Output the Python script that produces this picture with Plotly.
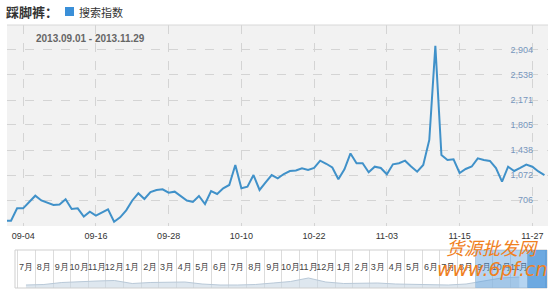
import plotly.graph_objects as go
import pandas as pd

# ---------------- data ----------------
start_date = "2013-09-01"
search_index = [403, 403, 584, 584, 677, 769, 699, 662, 633, 640,
                716, 574, 584, 464, 534, 476, 526, 570, 388, 452,
                555, 699, 804, 721, 823, 853, 863, 813, 828, 757,
                699, 677, 765, 647, 838, 794, 878, 926, 1219, 878,
                901, 1072, 853, 963, 1072, 1024, 1087, 1131, 1138, 1171,
                1146, 1175, 1282, 1237, 1182, 1009, 1156, 1388, 1244, 1244,
                1112, 1194, 1175, 1083, 1229, 1244, 1282, 1197, 1121, 1219,
                1586, 2965, 1366, 1292, 1303, 1102, 1160, 1197, 1317, 1292,
                1278, 1175, 974, 1194, 1131, 1175, 1226, 1194, 1124, 1072]
dates = pd.date_range(start_date, periods=len(search_index), freq="D")

x_tick_vals = ["2013-09-04", "2013-09-16", "2013-09-28", "2013-10-10",
               "2013-10-22", "2013-11-03", "2013-11-15", "2013-11-27"]
x_tick_text = ["09-04", "09-16", "09-28", "10-10", "10-22", "11-03", "11-15", "11-27"]
y_tick_vals = [706, 1072, 1438, 1805, 2171, 2538, 2904]
y_tick_text = ["706", "1,072", "1,438", "1,805", "2,171", "2,538", "2,904"]

# navigator (overview) data: monthly, 2011-07 .. 2013-11
nav_months = ["2011-07-16", "2011-08-16", "2011-09-16", "2011-10-16", "2011-11-16", "2011-12-16",
              "2012-01-16", "2012-02-16", "2012-03-16", "2012-04-16", "2012-05-16", "2012-06-16",
              "2012-07-16", "2012-08-16", "2012-09-16", "2012-10-16", "2012-11-16", "2012-12-16",
              "2013-01-16", "2013-02-16", "2013-03-16", "2013-04-16", "2013-05-16", "2013-06-16",
              "2013-07-16", "2013-08-16", "2013-09-16", "2013-10-16", "2013-11-16"]
nav_labels = ["7月", "8月", "9月", "10月", "11月", "12月",
              "1月", "2月", "3月", "4月", "5月", "6月",
              "7月", "8月", "9月", "10月", "11月", "12月",
              "1月", "2月", "3月", "4月", "5月", "6月",
              "7月", "8月", "9月", "10月", "11月"]
nav_values = [300, 350, 550, 650, 700, 750, 450, 550, 600, 600, 400, 300,
              300, 350, 500, 650, 1000, 600, 450, 450, 500, 400, 350, 300,
              300, 400, 700, 1000, 1100]

keyword = "踩脚裤："
legend_name = "搜索指数"
date_range_text = "2013.09.01 - 2013.11.29"

W, H = 550, 290
def px(x): return x / W
def py(y): return 1 - y / H

fig = go.Figure()

fig.add_trace(go.Scatter(
    x=dates, y=search_index, mode="lines",
    line=dict(color="#4091c9", width=2),
    xaxis="x", yaxis="y", showlegend=False, hoverinfo="skip"))

fig.add_trace(go.Scatter(
    x=nav_months, y=nav_values, mode="lines", fill="tozeroy",
    line=dict(color="#b9c9d8", width=1), fillcolor="rgba(200,215,228,0.6)",
    xaxis="x2", yaxis="y2", showlegend=False, hoverinfo="skip"))

fig.add_trace(go.Scatter(
    x=nav_months, y=[2000] * len(nav_months), mode="text", text=nav_labels,
    textfont=dict(family="Liberation Sans, Arial", size=9, color="#444"),
    xaxis="x2", yaxis="y2", showlegend=False, hoverinfo="skip"))

fig.update_layout(
    width=W, height=H, margin=dict(l=0, r=0, t=0, b=0),
    paper_bgcolor="white", plot_bgcolor="white",
    xaxis=dict(domain=[px(7), px(548)], type="date",
               range=["2013-09-01 08:00", "2013-11-29 14:00"],
               tickvals=x_tick_vals, ticktext=x_tick_text,
               showgrid=True, gridcolor="#d4d4d4", griddash="dash", gridwidth=1,
               ticks="", showline=False, zeroline=False, ticklabelstandoff=3,
               tickfont=dict(family="Liberation Sans, Arial", size=9, color="#333")),
    yaxis=dict(domain=[py(226), py(25)], range=[325, 3270],
               tickvals=y_tick_vals, ticktext=y_tick_text,
               anchor="free", position=px(533), side="left",
               showgrid=True, gridcolor="#d4d4d4", griddash="dash", gridwidth=1,
               ticks="", showline=False, zeroline=False,
               tickfont=dict(family="Liberation Sans, Arial", size=9, color="#7696bd")),
    xaxis2=dict(domain=[px(15), px(547)], type="date", anchor="y2",
                range=["2011-06-27", "2014-01-03"],
                tick0="2011-07-01", dtick="M1", showticklabels=False, ticks="",
                showgrid=True, gridcolor="#dcdcdc", gridwidth=1,
                showline=False, zeroline=False),
    yaxis2=dict(domain=[py(288), py(250)], range=[0, 3800], anchor="x2",
                showgrid=False, showticklabels=False, zeroline=False, showline=False),
    shapes=[
        dict(type="rect", xref="x domain", yref="y domain", x0=0, x1=1, y0=0, y1=1,
             fillcolor="#f2f2f2", line=dict(width=0), layer="below"),
        dict(type="line", xref="paper", yref="paper", x0=px(7), x1=px(548), y0=py(25), y1=py(25),
             line=dict(color="#d8d8d8", width=1)),
        dict(type="rect", xref="x2 domain", yref="y2 domain", x0=0, x1=1, y0=0, y1=1,
             line=dict(color="#cfcfcf", width=1), fillcolor="rgba(0,0,0,0)"),
        dict(type="rect", xref="x2", yref="y2 domain", x0="2013-09-01", x1="2013-11-30", y0=0, y1=1,
             fillcolor="rgba(90,160,225,0.45)", line=dict(width=0)),
        dict(type="rect", xref="x2", yref="y2 domain", x0="2013-11-30", x1="2014-01-03", y0=0, y1=1,
             fillcolor="rgba(60,140,215,0.75)", line=dict(width=0)),
        dict(type="rect", xref="paper", yref="paper", x0=px(65), x1=px(74), y0=py(16), y1=py(7),
             fillcolor="#3a8fd8", line=dict(width=0)),
    ],
    annotations=[
        dict(text="<b>" + keyword + "</b>", xref="paper", yref="paper", x=px(4), y=py(12),
             xanchor="left", yanchor="middle", showarrow=False,
             font=dict(family="Noto Sans CJK SC", size=13, color="#333")),
        dict(text=legend_name, xref="paper", yref="paper", x=px(77), y=py(12),
             xanchor="left", yanchor="middle", showarrow=False,
             font=dict(family="Noto Sans CJK SC", size=11, color="#333")),
        dict(text="<b>" + date_range_text + "</b>", xref="paper", yref="paper", x=px(34), y=py(38),
             xanchor="left", yanchor="middle", showarrow=False,
             font=dict(family="Liberation Sans, Arial", size=10, color="#666")),
        dict(text="<i>货源批发网</i>", xref="paper", yref="paper", x=px(492), y=py(247),
             xanchor="center", yanchor="middle", showarrow=False,
             font=dict(family="Noto Sans CJK SC", size=18, color="#f0801e")),
        dict(text="<i>www.6pf.cn</i>", xref="paper", yref="paper", x=px(492), y=py(269),
             xanchor="center", yanchor="middle", showarrow=False,
             font=dict(family="DejaVu Sans", size=19, color="#f0801e")),
    ],
)

fig.write_html("out.html")
